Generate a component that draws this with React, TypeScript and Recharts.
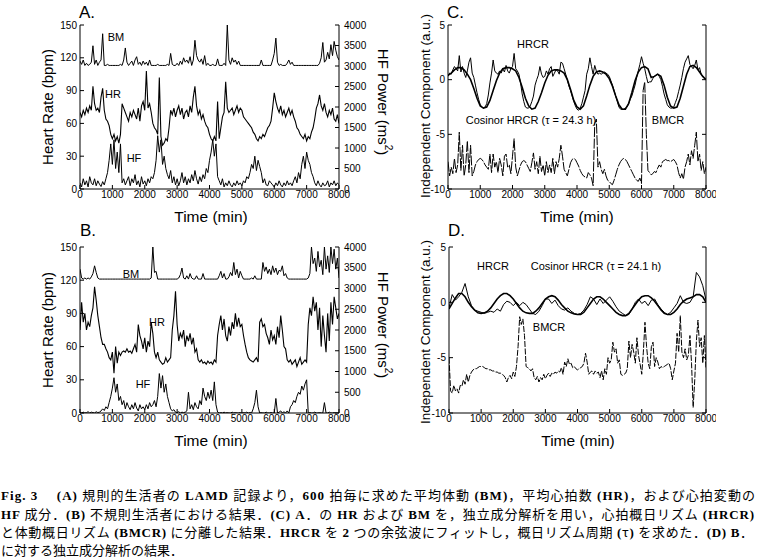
import React from 'react';
import { LineChart, Line, XAxis, YAxis } from 'recharts';

const FONT = "'Liberation Sans', Arial, Helvetica, sans-serif";

// ---- axis ticks ----
const timeTicks = [0, 1000, 2000, 3000, 4000, 5000, 6000, 7000, 8000];
const timeMinor = [0, 500, 1000, 1500, 2000, 2500, 3000, 3500, 4000, 4500, 5000, 5500, 6000, 6500, 7000, 7500, 8000];
const hrTicks = [0, 30, 60, 90, 120, 150];
const hfTicks = [0, 500, 1000, 1500, 2000, 2500, 3000, 3500, 4000];
const icTicks = [-10, -5, 0, 5];

// sampling grid (minutes)
const time50 = Array.from({ length: 161 }, (_, i) => i * 50);

// ---- Panel A (regular) : HR (bpm), HF (ms^2), BM (offset, bpm axis) ----
const hrA = [
  70, 66, 72, 68, 74, 70, 76, 72, 94, 78, 72, 74, 70, 84, 92, 72, 64, 62, 58, 50,
  46, 50, 44, 48, 42, 50, 78, 74, 70, 66, 62, 70, 66, 72, 68, 64, 74, 62, 76, 80,
  72, 108, 74, 78, 70, 60, 56, 54, 50, 102, 48, 40, 42, 46, 44, 56, 72, 68, 74, 66,
  72, 76, 68, 74, 64, 70, 72, 66, 76, 70, 84, 94, 76, 68, 72, 64, 68, 62, 58, 56,
  50, 46, 44, 48, 44, 80, 46, 56, 66, 70, 98, 74, 70, 72, 74, 68, 72, 76, 70, 74,
  72, 66, 64, 62, 60, 58, 56, 52, 50, 46, 44, 48, 46, 50, 48, 52, 56, 58, 62, 74,
  88, 80, 74, 70, 76, 68, 72, 66, 70, 74, 68, 72, 66, 62, 56, 54, 50, 48, 46, 50,
  44, 48, 46, 52, 56, 64, 74, 78, 86, 76, 72, 78, 70, 66, 72, 68, 74, 64, 62, 68,
  60,
];
const hfA = [
  150, 50, 250, 100, 200, 50, 300, 150, 100, 250, 80, 200, 120, 60, 180, 100, 250, 400, 700, 1100,
  600, 1200, 500, 900, 400, 1100, 150, 250, 100, 200, 300, 80, 250, 150, 350, 100, 200, 50, 300, 120,
  200, 80, 250, 150, 300, 250, 400, 700, 1300, 900, 1200, 600, 800, 500, 350, 250, 450, 150, 300, 100,
  250, 80, 200, 400, 150, 300, 100, 250, 150, 350, 200, 450, 250, 120, 300, 180, 350, 250, 500, 400,
  700, 900, 1200, 800, 1100, 300, 200, 100, 250, 50, 150, 80, 200, 100, 50, 150, 80, 200, 100, 150,
  80, 200, 150, 300, 250, 400, 600, 500, 800, 450, 700, 550, 400, 150, 250, 100, 80, 200, 150, 100,
  50, 150, 80, 200, 100, 50, 150, 80, 200, 100, 150, 80, 200, 300, 150, 400, 250, 600, 800, 500,
  900, 700, 600, 400, 300, 150, 80, 200, 100, 50, 150, 80, 100, 200, 50, 150, 100, 200, 80, 150,
  100,
];
const bmA = [
  117, 114, 118, 113, 115, 113, 114, 116, 131, 114, 118, 113, 116, 118, 142, 113, 113, 114, 113, 113,
  113, 113, 113, 113, 113, 114, 113, 118, 129, 116, 113, 115, 117, 113, 118, 121, 114, 116, 113, 117,
  114, 116, 113, 118, 113, 113, 113, 113, 114, 113, 113, 113, 113, 113, 114, 113, 124, 114, 113, 113,
  115, 113, 117, 114, 120, 116, 118, 115, 121, 113, 118, 136, 122, 118, 116, 119, 114, 122, 113, 115,
  113, 113, 114, 113, 113, 119, 113, 113, 113, 115, 113, 150, 118, 114, 120, 116, 118, 114, 117, 113,
  113, 113, 113, 113, 113, 113, 113, 113, 113, 113, 113, 113, 118, 113, 113, 113, 113, 113, 113, 118,
  124, 138, 116, 113, 114, 113, 113, 113, 115, 118, 114, 116, 113, 113, 113, 113, 113, 113, 113, 113,
  113, 113, 113, 113, 113, 113, 113, 113, 115, 120, 134, 116, 118, 125, 119, 132, 122, 135, 127, 121,
  118,
];

// ---- Panel B (irregular) ----
const hrB = [
  75, 100, 82, 90, 75, 82, 78, 88, 95, 114, 102, 88, 78, 68, 62, 62, 58, 55, 50, 48,
  55, 36, 60, 45, 55, 52, 55, 56, 55, 58, 55, 56, 54, 58, 62, 55, 80, 70, 65, 58,
  68, 55, 65, 60, 82, 72, 55, 50, 55, 48, 46, 44, 45, 50, 46, 48, 50, 75, 88, 110,
  80, 65, 72, 68, 75, 60, 70, 65, 72, 62, 68, 55, 58, 48, 46, 48, 45, 46, 44, 47,
  45, 46, 44, 48, 46, 70, 80, 88, 75, 85, 70, 65, 78, 70, 82, 76, 90, 78, 86, 78,
  80, 70, 62, 55, 50, 48, 47, 46, 48, 50, 46, 82, 85, 78, 80, 72, 68, 62, 75, 66,
  70, 62, 78, 68, 88, 75, 60, 58, 48, 46, 48, 44, 46, 48, 42, 46, 50, 44, 46, 48,
  46, 80, 95, 88, 105, 92, 100, 75, 95, 60, 88, 70, 55, 90, 65, 100, 80, 105, 95, 85,
  90,
];
const hfB = [
  10, 0, 20, 0, 10, 30, 0, 20, 10, 0, 30, 10, 20, 50, 100, 60, 150, 100, 250, 400,
  600, 850, 500, 700, 300, 400, 200, 300, 100, 250, 150, 80, 200, 100, 250, 120, 50, 200, 100, 150,
  80, 200, 100, 250, 150, 200, 300, 150, 400, 950, 600, 900, 500, 700, 400, 250, 100, 50, 80, 20,
  10, 30, 0, 20, 10, 20, 50, 500, 100, 200, 80, 250, 150, 100, 300, 200, 600, 400, 300, 500,
  350, 550, 300, 750, 200, 20, 0, 10, 0, 20, 0, 10, 0, 0, 20, 0, 10, 0, 0, 10,
  0, 10, 0, 20, 0, 10, 0, 100, 250, 550, 150, 0, 10, 0, 0, 20, 0, 0, 10, 0,
  0, 350, 0, 20, 50, 0, 30, 0, 50, 0, 150, 200, 300, 250, 400, 500, 450, 650, 550, 700,
  800, 0, 10, 0, 0, 20, 0, 0, 10, 0, 0, 250, 0, 0, 20, 0, 0, 10, 0, 0,
  0,
];
const bmB = [
  130, 122, 121, 122, 121, 122, 121, 123, 126, 133, 127, 122, 121, 121, 121, 121, 121, 121, 121, 121,
  121, 121, 121, 121, 121, 121, 121, 121, 121, 121, 121, 121, 121, 121, 121, 121, 121, 121, 121, 121,
  121, 121, 121, 121, 122, 150, 127, 128, 121, 121, 121, 121, 121, 121, 121, 121, 121, 121, 121, 121,
  121, 122, 125, 131, 122, 121, 124, 121, 126, 122, 121, 121, 124, 121, 121, 121, 126, 121, 121, 121,
  121, 121, 121, 121, 121, 121, 124, 128, 122, 126, 121, 121, 123, 127, 124, 136, 125, 130, 122, 128,
  124, 121, 121, 121, 121, 121, 122, 121, 124, 121, 121, 121, 121, 136, 128, 132, 126, 130, 125, 133,
  127, 131, 125, 129, 128, 133, 124, 126, 122, 121, 121, 121, 121, 121, 121, 121, 121, 121, 121, 121,
  121, 122, 126, 150, 135, 140, 128, 146, 132, 138, 125, 150, 130, 142, 127, 150, 135, 148, 130, 140,
  122,
];

// ---- Panel C (ICA of A) ----
const hrcrC = [
  0.3, 0.6, 0.5, 0.9, 1.2, 1.0, 0.8, 2.2, 0.7, 1.2, 0.6, 0.2, 0.8, 1.6, 2.0, 0.6, 0.2, -0.5, -1.2, -1.8,
  -2.3, -2.5, -2.6, -2.5, -2.2, -1.4, -0.3, 0.6, 1.8, 0.8, 0.6, 0.5, 0.8, 0.6, 1.0, 0.7, 1.3, 0.8, 0.6, 1.0,
  1.2, 2.4, 1.0, 0.8, 0.5, -0.3, -1.3, -2.0, -2.5, -2.6, -2.6, -2.4, -2.0, -1.5, -0.5, 0.0, 0.4, 1.2, 0.5, 0.2,
  0.3, 0.8, 0.5, 1.0, 1.2, 0.3, 0.6, 0.9, 0.8, 0.5, 1.6, 1.5, 1.0, 0.5, 0.0, -0.6, -1.0, -1.5, -2.0, -2.4,
  -2.7, -2.8, -2.6, -2.2, -1.6, -1.0, 0.5, 1.0, 2.0, 1.2, 0.5, 1.3, 0.8, 0.5, 0.6, 0.5, 0.6, 0.7, 0.6, 0.5,
  0.3, -0.1, -0.5, -1.0, -1.5, -2.0, -2.5, -2.7, -2.7, -2.7, -2.6, -2.5, -2.2, -1.8, -1.5, -1.0, -0.5, 0.2, 0.8, 1.4,
  2.1, 1.5, 1.0, 0.3, -0.3, -0.2, -0.2, 0.1, 0.3, 0.4, 0.5, 0.3, 0.0, -0.6, -1.3, -1.8, -2.3, -2.5, -2.6, -2.6,
  -2.5, -2.1, -1.7, -1.1, -0.5, 0.2, 1.0, 1.6, 1.9, 2.2, 1.4, 1.2, 1.0, 1.3, 1.8, 0.9, 1.1, 0.5, 0.3, 0.1,
  0.0,
];
const cosinorC = [
  0.4, 0.6, 0.9, 1.1, 1.1, 0.9, 0.5, 0.0, -0.8, -1.7,
  -2.4, -2.6, -2.5, -1.9, -1.0, -0.1, 0.6, 1.0, 1.1, 1.1,
  1.0, 0.8, 0.2, -0.7, -1.7, -2.4, -2.7, -2.6, -2.0, -1.2,
  -0.3, 0.4, 0.8, 0.9, 0.9, 0.8, 0.6, 0.0, -0.9, -1.9,
  -2.5, -2.7, -2.4, -1.5, -0.5, 0.3, 0.7, 0.8, 0.7, 0.5,
  0.1, -0.6, -1.5, -2.3, -2.7, -2.7, -2.2, -1.2, -0.1, 0.7,
  1.1, 1.2, 1.0, 0.2, 0.3, 0.5, 0.3, -0.5, -1.6, -2.4,
  -2.6, -2.5, -1.7, -0.6, 0.5, 1.2, 1.3, 1.1, 0.7, 0.3,
  0.0,
];
const bmcrC = [
  -7.5, -8.8, -8.0, -8.6, -7.2, -8.5, -7.8, -4.8, -8.3, -6.0, -8.8, -7.8, -5.6, -8.5, -6.0, -8.8, -8.4, -7.8, -7.5, -7.3,
  -7.2, -7.3, -7.5, -7.8, -8.0, -8.2, -6.8, -8.5, -6.8, -8.0, -7.5, -8.5, -7.2, -7.8, -8.8, -7.0, -6.8, -8.0, -7.8, -8.6,
  -7.0, -5.4, -8.0, -8.8, -8.3, -7.8, -7.5, -7.4, -7.5, -7.8, -8.1, -8.4, -7.6, -6.7, -8.2, -7.5, -8.6, -7.0, -8.4, -7.8,
  -8.8, -7.5, -8.5, -7.8, -8.5, -7.2, -8.6, -7.5, -8.0, -7.2, -6.0, -7.0, -8.2, -8.5, -8.8, -8.2, -7.6, -7.3, -7.2, -7.3,
  -7.6, -7.9, -8.3, -8.6, -8.8, -8.9, -9.0, -8.5, -8.7, -9.0, -9.7, -4.0, -3.6, -8.0, -7.5, -8.2, -8.6, -8.2, -8.8, -9.2,
  -9.3, -9.5, -9.6, -9.2, -8.7, -8.2, -7.8, -7.5, -7.3, -7.2, -7.3, -7.5, -7.8, -8.1, -8.4, -8.7, -9.0, -9.2, -9.3, -9.0,
  -9.5, -1.0, -0.2, -5.0, -8.3, -8.5, -8.7, -8.6, -8.4, -8.5, -8.1, -7.8, -8.0, -7.5, -7.4, -7.3, -7.4, -7.4, -7.5, -7.4,
  -7.3, -7.5, -7.8, -8.5, -9.0, -8.6, -9.1, -8.0, -7.5, -6.8, -7.8, -6.5, -7.2, -6.0, -4.8, -7.5, -6.8, -8.3, -7.5, -8.6,
  -8.0,
];

// ---- Panel D (ICA of B) ----
const hrcrD = [
  -0.5, 0.7, 0.2, 0.5, 0.9, 1.7, 0.5, -0.3, -0.7, -0.8,
  -0.9, -1.0, -0.9, -0.8, -0.9, -0.6, -0.8, -0.2, 0.1, 0.0,
  -0.3, 0.0, -0.3, 0.0, -0.2, -0.6, -1.0, -1.1, -0.8, -0.3,
  0.3, 0.3, -0.1, 0.2, -0.3, -0.6, -0.7, -0.5, -0.8, -1.0,
  -1.1, -1.0, -0.7, -0.2, 0.5, 0.3, -0.2, 0.3, -0.1, 0.2,
  0.5, 0.1, -0.4, -0.8, -1.0, -1.2, -1.1, -0.6, 0.0, 0.3,
  -0.1, 0.1, -0.3, 0.2, 0.3, -0.2, -0.6, -0.9, -1.1, -0.9,
  -0.5, -0.1, 0.6, 0.0, -0.1, 0.0, 0.5, 2.7, 2.3, 1.5,
  0.2,
];
const cosinorD = [
  -0.6, -0.1, 0.4, 0.8, 0.8, 0.5, 0.0, -0.4, -0.7, -0.95,
  -1.0, -0.95, -0.8, -0.5, -0.1, 0.3, 0.6, 0.8, 0.8, 0.6,
  0.3, -0.1, -0.5, -0.8, -0.95, -1.0, -1.0, -0.8, -0.5, -0.1,
  0.3, 0.5, 0.6, 0.5, 0.2, -0.2, -0.5, -0.8, -0.95, -1.05,
  -1.1, -1.1, -0.9, -0.5, -0.1, 0.3, 0.5, 0.5, 0.3, 0.0,
  -0.3, -0.6, -0.9, -1.1, -1.2, -1.2, -1.0, -0.6, -0.2, 0.2,
  0.5, 0.6, 0.6, 0.4, 0.1, -0.3, -0.7, -1.0, -1.1, -1.1,
  -0.9, -0.6, -0.2, 0.1, 0.3, 0.4, 0.5, 0.7, 0.7, 0.5,
  0.0,
];
const bmcrD = [
  -5.0, -8.0, -8.2, -7.5, -8.0, -7.8, -8.2, -7.5, -7.6, -7.0, -7.4, -6.5, -7.2, -6.6, -6.3, -6.1, -6.0, -6.0, -5.9, -5.8,
  -5.8, -5.8, -5.9, -6.0, -6.0, -6.1, -6.1, -6.2, -6.2, -6.3, -6.3, -6.4, -6.4, -6.5, -6.6, -6.8, -7.2, -6.8, -6.6, -6.9,
  -6.3, -6.7, -5.8, -4.0, -1.3, -2.0, -1.5, -3.0, -5.8, -5.9, -6.0, -6.2, -6.0, -6.8, -7.0, -6.7, -7.2, -6.8, -7.0, -6.5,
  -6.9, -6.6, -6.4, -6.7, -6.4, -6.5, -6.3, -6.4, -6.2, -6.3, -5.9, -6.5, -5.4, -5.8, -5.1, -5.6, -5.5, -5.9, -5.8, -6.0,
  -6.1, -6.0, -5.9, -5.8, -5.5, -4.6, -5.4, -6.5, -6.3, -6.2, -6.5, -6.2, -6.4, -6.3, -6.8, -6.2, -7.0, -6.0, -6.5, -5.0,
  -5.5, -5.2, -3.6, -4.5, -4.2, -5.5, -5.2, -6.5, -6.6, -6.5, -6.4, -6.0, -3.5, -5.0, -3.8, -4.5, -5.5, -3.2, -4.8, -5.6,
  -6.5, -4.5, -1.8, -4.0, -5.5, -6.0, -4.0, -3.6, -5.8, -5.0, -5.4, -6.0, -5.8, -5.9, -5.8, -5.7, -5.6, -5.5, -6.0, -7.0,
  -6.2, -5.5, -2.8, -4.5, -1.2, -4.5, -5.0, -4.2, -5.2, -4.8, -3.0, -5.5, -9.5, -7.0, -3.5, -1.6, -4.0, -3.2, -5.5, -3.0,
  -6.0,
];

// ---- tables for the library ----
const rowsA = time50.map((t, i) => ({ t, hr: hrA[i], hf: hfA[i], bm: bmA[i] }));
const rowsB = time50.map((t, i) => ({ t, hr: hrB[i], hf: hfB[i], bm: bmB[i] }));
const rowsC = time50.map((t, i) => ({
  t,
  hrcr: hrcrC[i],
  bmcr: bmcrC[i],
  cos: i % 2 === 0 ? cosinorC[i / 2] : undefined,
}));
const rowsD = time50.map((t, i) => ({
  t,
  hrcr: i % 2 === 0 ? hrcrD[i / 2] : undefined,
  bmcr: bmcrD[i],
  cos: i % 2 === 0 ? cosinorD[i / 2] : undefined,
}));

const tickStyle = { fontSize: 10, fill: '#000', fontFamily: FONT };
const axisLine = { stroke: '#000', strokeWidth: 1 };

function axes(yDomain: number[], yTicks: number[], rDomain: number[], rTicks: number[], rLabels: boolean) {
  return [
    <XAxis key="xb" xAxisId="b" dataKey="t" type="number" domain={[0, 8000]} ticks={timeTicks} interval={0}
      orientation="bottom" height={20} tickSize={-4} tickMargin={6} tick={tickStyle}
      axisLine={axisLine} tickLine={axisLine} allowDataOverflow />,
    <XAxis key="xt" xAxisId="t" dataKey="t" type="number" domain={[0, 8000]} ticks={timeMinor} interval={0}
      orientation="top" height={0} tickSize={-3} tickFormatter={() => ''} tick={tickStyle}
      axisLine={axisLine} tickLine={axisLine} allowDataOverflow />,
    <YAxis key="yl" yAxisId="l" type="number" domain={yDomain} ticks={yTicks} interval={0} width={40}
      tickSize={-4} tickMargin={7} tick={tickStyle} axisLine={axisLine} tickLine={axisLine} allowDataOverflow />,
    <YAxis key="yr" yAxisId="r" orientation="right" type="number" domain={rDomain} ticks={rTicks} interval={0}
      width={rLabels ? 40 : 10} tickSize={-4} tickMargin={9} tick={tickStyle}
      tickFormatter={rLabels ? undefined : () => ''} axisLine={axisLine} tickLine={axisLine} allowDataOverflow />,
  ];
}

type PanelProps = {
  left: number; top: number; plotW: number; plotH: number; data: any[];
  yDomain: number[]; yTicks: number[]; rDomain: number[]; rTicks: number[]; rLabels: boolean;
  children: React.ReactNode;
};

function Panel({ left, top, plotW, plotH, data, yDomain, yTicks, rDomain, rTicks, rLabels, children }: PanelProps) {
  const ML = 40, MR = rLabels ? 40 : 10, MT = 10, MB = 20;
  const W = plotW + ML + MR, H = plotH + MT + MB;
  return (
    <div style={{ position: 'absolute', left: left - ML, top: top - MT, width: W, height: H }}>
      <LineChart width={W} height={H} data={data} margin={{ top: MT, right: 0, bottom: 0, left: 0 }}>
        {axes(yDomain, yTicks, rDomain, rTicks, rLabels)}
        {children}
      </LineChart>
    </div>
  );
}

const lineProps = { xAxisId: 'b', type: 'linear' as const, stroke: '#000', dot: false, isAnimationActive: false, connectNulls: true };

function CapLine({ y, len, text }: { y: number; len?: number; text: string }) {
  const parts = text.match(/[\x20-\x7E]+|[^\x20-\x7E]+/g) || [];
  return (
    <text x={1} y={y} fontSize={13} textLength={len} lengthAdjust={len ? 'spacing' : undefined} style={{ whiteSpace: 'pre' }} fill="#000">
      {parts.map((p, i) =>
        /[\x20-\x7E]/.test(p[0]) ? (
          <tspan key={i} fontFamily="'Liberation Serif', serif" fontWeight="bold">{p}</tspan>
        ) : (
          <tspan key={i} fontFamily="'Noto Sans CJK JP', sans-serif">{p}</tspan>
        ),
      )}
    </text>
  );
}

function HFLabel({ x, y }: { x: number; y: number }) {
  return (
    <text x={x} y={y} transform={`rotate(90 ${x} ${y})`} textAnchor="middle" dominantBaseline="central" fontSize={15} fontFamily={FONT}>
      HF Power (ms<tspan dy={-6} fontSize={10}>2</tspan><tspan dy={6}>)</tspan>
    </text>
  );
}

export default function App() {
  return (
    <div style={{ position: 'absolute', left: 0, top: 0, width: 760, height: 559, background: '#fff', overflow: 'hidden', fontFamily: FONT }}>
      {/* Panel A */}
      <Panel left={80} top={25} plotW={259} plotH={164} data={rowsA} yDomain={[0, 150]} yTicks={hrTicks} rDomain={[0, 4000]} rTicks={hfTicks} rLabels>
        <Line {...lineProps} yAxisId="l" dataKey="bm" strokeWidth={1} />
        <Line {...lineProps} yAxisId="l" dataKey="hr" strokeWidth={1.1} />
        <Line {...lineProps} yAxisId="r" dataKey="hf" strokeWidth={1} />
      </Panel>
      {/* Panel B */}
      <Panel left={80} top={247} plotW={259} plotH={166} data={rowsB} yDomain={[0, 150]} yTicks={hrTicks} rDomain={[0, 4000]} rTicks={hfTicks} rLabels>
        <Line {...lineProps} yAxisId="l" dataKey="bm" strokeWidth={1} />
        <Line {...lineProps} yAxisId="l" dataKey="hr" strokeWidth={1.1} />
        <Line {...lineProps} yAxisId="r" dataKey="hf" strokeWidth={1} />
      </Panel>
      {/* Panel C */}
      <Panel left={448} top={25} plotW={258} plotH={164} data={rowsC} yDomain={[-10, 5]} yTicks={icTicks} rDomain={[-10, 5]} rTicks={icTicks} rLabels={false}>
        <Line {...lineProps} yAxisId="l" dataKey="cos" strokeWidth={1.6} />
        <Line {...lineProps} yAxisId="l" dataKey="hrcr" strokeWidth={1} />
        <Line {...lineProps} yAxisId="l" dataKey="bmcr" strokeWidth={1} strokeDasharray="10 1.5" />
      </Panel>
      {/* Panel D */}
      <Panel left={449} top={247} plotW={257} plotH={166} data={rowsD} yDomain={[-10, 5]} yTicks={icTicks} rDomain={[-10, 5]} rTicks={icTicks} rLabels={false}>
        <Line {...lineProps} yAxisId="l" dataKey="cos" strokeWidth={1.6} />
        <Line {...lineProps} yAxisId="l" dataKey="hrcr" strokeWidth={1} />
        <Line {...lineProps} yAxisId="l" dataKey="bmcr" strokeWidth={1} strokeDasharray="6 1.5" />
      </Panel>

      <svg width={760} height={559} style={{ position: 'absolute', left: 0, top: 0, pointerEvents: 'none' }}>
        <g fontFamily={FONT} fill="#000">
          {/* panel titles */}
          <text x={79} y={18} fontSize={17}>A.</text>
          <text x={447} y={18} fontSize={17}>C.</text>
          <text x={80} y={236} fontSize={17}>B.</text>
          <text x={448} y={236} fontSize={17}>D.</text>

          {/* axis titles */}
          <text x={47} y={107} transform="rotate(-90 47 107)" textAnchor="middle" dominantBaseline="central" fontSize={15}>Heart Rate (bpm)</text>
          <text x={47} y={330} transform="rotate(-90 47 330)" textAnchor="middle" dominantBaseline="central" fontSize={15}>Heart Rate (bpm)</text>
          <HFLabel x={383} y={102} />
          <HFLabel x={383} y={325} />
          <text x={425} y={106} transform="rotate(-90 425 106)" textAnchor="middle" dominantBaseline="central" fontSize={13.5}>Independent Component (a.u.)</text>
          <text x={425} y={332} transform="rotate(-90 425 332)" textAnchor="middle" dominantBaseline="central" fontSize={13.5}>Independent Component (a.u.)</text>
          <text x={211} y={216} textAnchor="middle" dominantBaseline="central" fontSize={15.5}>Time (min)</text>
          <text x={577} y={216} textAnchor="middle" dominantBaseline="central" fontSize={15.5}>Time (min)</text>
          <text x={211} y={440} textAnchor="middle" dominantBaseline="central" fontSize={15.5}>Time (min)</text>
          <text x={578} y={440} textAnchor="middle" dominantBaseline="central" fontSize={15.5}>Time (min)</text>

          {/* series labels */}
          <g fontSize={11} textAnchor="middle" dominantBaseline="central">
            <text x={116} y={37}>BM</text>
            <text x={113} y={94}>HR</text>
            <text x={134} y={158}>HF</text>
            <text x={131} y={274}>BM</text>
            <text x={157} y={322}>HR</text>
            <text x={143} y={384}>HF</text>
            <text x={533} y={44}>HRCR</text>
            <text x={531} y={120}>Cosinor HRCR (τ = 24.3 h)</text>
            <text x={668} y={120}>BMCR</text>
            <text x={493} y={266}>HRCR</text>
            <text x={596} y={266}>Cosinor HRCR (τ = 24.1 h)</text>
            <text x={549} y={327}>BMCR</text>
          </g>
        </g>

        {/* caption */}
        <CapLine y={500} len={754} text="Fig. 3　 (A) 規則的生活者の LAMD 記録より，600 拍毎に求めた平均体動 (BM)，平均心拍数 (HR)，および心拍変動の" />
        <CapLine y={518.5} len={753} text="HF 成分．(B) 不規則生活者における結果．(C) A．の HR および BM を，独立成分解析を用い，心拍概日リズム (HRCR)" />
        <CapLine y={537} len={752} text="と体動概日リズム (BMCR) に分離した結果．HRCR を 2 つの余弦波にフィットし，概日リズム周期 (τ) を求めた．(D) B．" />
        <CapLine y={554.5} text="に対する独立成分解析の結果．" />
      </svg>
    </div>
  );
}
